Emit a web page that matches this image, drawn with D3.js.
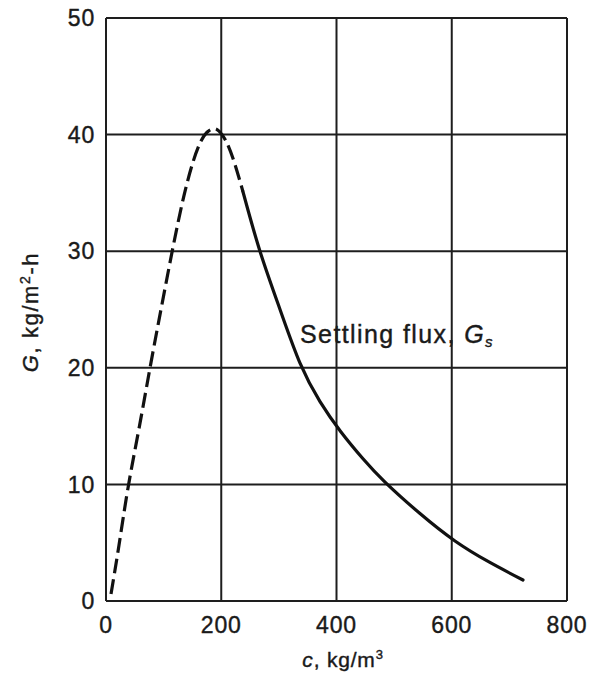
<!DOCTYPE html>
<html><head><meta charset="utf-8">
<script src="https://cdn.jsdelivr.net/npm/d3@7"></script>
<style>
html,body{margin:0;padding:0;background:#fff;}
svg text{font-family:"Liberation Sans",Arial,sans-serif;fill:#1a1a1a;stroke:#1a1a1a;stroke-width:0.4px;}
</style></head>
<body>
<svg id="chart" width="603" height="684"></svg>
<script>
// ---- data ----
const xTicks = [0, 200, 400, 600, 800];
const yTicks = [0, 10, 20, 30, 40, 50];
const dashedC = [8.7, 22.6, 38.2, 57.3, 76.4, 95.4, 114.5, 133.6, 151, 164.9, 175.3, 185.7, 196.1, 208.2, 222.1, 237.7];
const dashedG = [0.6, 4.8, 9.7, 14.8, 20, 25, 29.9, 34.4, 37.65, 39.45, 40.2, 40.5, 40.3, 39.45, 37.7, 35.1];
const solidC = [237.7, 267.2, 302, 336.7, 371.4, 407.8, 446, 484.2, 544.9, 605.6, 664.6, 723.6];
const solidG = [35.1, 30, 25, 20.4, 17.1, 14.5, 12.2, 10.2, 7.5, 5.15, 3.35, 1.8];
const annotation = {text: "Settling flux, ", sym: "G", sub: "s"};

const svg = d3.select("#chart");
const x = d3.scaleLinear().domain([0, 800]).range([106, 567]);
const y = d3.scaleLinear().domain([0, 50]).range([601, 18]);

const ink = "#1e1e1e";
// grid
const g = svg.append("g");
g.selectAll(".vg").data(xTicks).join("line")
  .attr("x1", d => x(d)).attr("x2", d => x(d))
  .attr("y1", y(0)).attr("y2", y(50))
  .attr("stroke", ink).attr("stroke-width", 2);
g.selectAll(".hg").data(yTicks).join("line")
  .attr("x1", x(0)).attr("x2", x(800))
  .attr("y1", d => y(d)).attr("y2", d => y(d))
  .attr("stroke", ink).attr("stroke-width", 2);

// tick labels
svg.append("g").selectAll("text").data(yTicks).join("text")
  .attr("x", 95).attr("y", d => y(d)).attr("dy", "0.36em")
  .attr("text-anchor", "end").attr("font-size", 23).attr("letter-spacing", 0.8)
  .text(d => d);
svg.append("g").selectAll("text").data(xTicks).join("text")
  .attr("x", d => x(d)).attr("y", 633)
  .attr("text-anchor", "middle").attr("font-size", 23).attr("letter-spacing", 0.8)
  .text(d => d);

// curve
const line = d3.line().x(d => x(d[0])).y(d => y(d[1])).curve(d3.curveNatural);
svg.append("path").datum(d3.zip(dashedC, dashedG))
  .attr("d", line).attr("fill", "none").attr("stroke", "#111")
  .attr("stroke-width", 3.2).attr("stroke-dasharray", "15 6");
svg.append("path").datum(d3.zip(solidC, solidG))
  .attr("d", line).attr("fill", "none").attr("stroke", "#111")
  .attr("stroke-width", 3.2).attr("stroke-linecap", "round");

// annotation
const ann = svg.append("text").attr("x", 300).attr("y", 343).attr("font-size", 25).attr("letter-spacing", 1.4);
ann.append("tspan").text(annotation.text);
ann.append("tspan").attr("font-style", "italic").text(annotation.sym);
ann.append("tspan").attr("font-style", "italic").attr("font-size", 15).attr("dy", 4).text(annotation.sub);

// axis titles
const xt = svg.append("text").attr("x", 343).attr("y", 667).attr("text-anchor", "middle").attr("font-size", 21).attr("letter-spacing", 0.8);
xt.append("tspan").attr("font-style", "italic").text("c");
xt.append("tspan").text(", kg/m");
xt.append("tspan").attr("font-size", 13).attr("dy", -8).text("3");

const yt = svg.append("text").attr("transform", "translate(38,312) rotate(-90)").attr("text-anchor", "middle").attr("font-size", 22).attr("letter-spacing", 1.6);
yt.append("tspan").attr("font-style", "italic").text("G");
yt.append("tspan").text(", kg/m");
yt.append("tspan").attr("font-size", 14).attr("dy", -8).text("2");
yt.append("tspan").attr("dy", 8).text("-h");
</script>
</body></html>
